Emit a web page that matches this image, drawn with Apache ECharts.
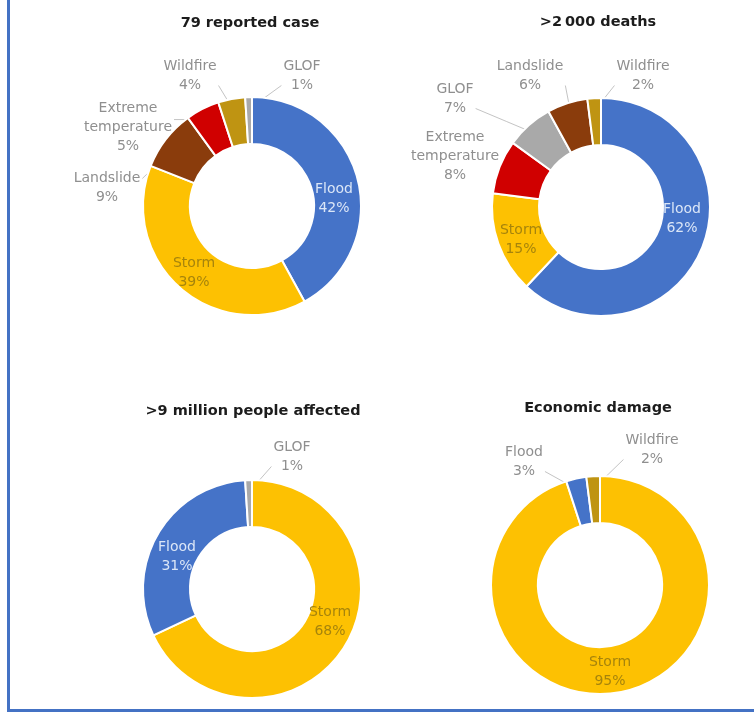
<!DOCTYPE html>
<html><head><meta charset="utf-8">
<script src="https://cdn.jsdelivr.net/npm/echarts@6/dist/echarts.min.js"></script>
<style>html,body{margin:0;padding:0;background:#fff}#main{width:754px;height:714px}</style>
</head><body><div id="main"></div>
<script>
// ---- data ----
const chartTitles = ['79 reported case', '>2\u2009000 deaths', '>9 million people affected', 'Economic damage'];
const casesNames = ['Flood', 'Storm', 'Landslide', 'Extreme temperature', 'Wildfire', 'GLOF'];
const casesValues = [42, 39, 9, 5, 4, 1];
const deathsNames = ['Flood', 'Storm', 'Extreme temperature', 'GLOF', 'Landslide', 'Wildfire'];
const deathsValues = [62, 15, 8, 7, 6, 2];
const affectedNames = ['Storm', 'Flood', 'GLOF'];
const affectedValues = [68, 31, 1];
const damageNames = ['Storm', 'Flood', 'Wildfire'];
const damageValues = [95, 3, 2];

// ---- style / layout ----
const colorMap = {
  'Flood': '#4573c8',
  'Storm': '#fdc102',
  'Landslide': '#8a3c0c',
  'Extreme temperature': '#d00000',
  'Wildfire': '#bf9412',
  'GLOF': '#a9a9a9'
};
const insideColor = { 'Flood': '#dbe6f7', 'Storm': '#a6840c' };
const FONT = "'DejaVu Sans', sans-serif";
const LH = 19;
const R_IN = 62, R_OUT = 109, R_LINE = 97;
// label centre offsets from each ring centre
const panels = [
  { center: [252, 206], titleX: 250, titleY: 25, names: casesNames, values: casesValues,
    labelPos: { 'Flood': [82, -7], 'Storm': [-58, 67], 'Landslide': [-145, -18],
      'Extreme temperature': [-124, -79], 'Wildfire': [-62, -130], 'GLOF': [50, -130] } },
  { center: [601, 207], titleX: 598, titleY: 24, names: deathsNames, values: deathsValues,
    labelPos: { 'Flood': [81, 12], 'Storm': [-80, 33], 'Extreme temperature': [-146, -51],
      'GLOF': [-146, -108], 'Landslide': [-71, -131], 'Wildfire': [42, -131] } },
  { center: [252, 589], titleX: 253, titleY: 413, names: affectedNames, values: affectedValues,
    labelPos: { 'Storm': [78, 33], 'Flood': [-75, -32], 'GLOF': [40, -132] } },
  { center: [600, 585], titleX: 598, titleY: 410, names: damageNames, values: damageValues,
    labelPos: { 'Storm': [10, 87], 'Flood': [-76, -123], 'Wildfire': [52, -135] } }
];

function fmt(p) {
  const n = p.name.indexOf(' ') > 0 && p.name.length > 10 ? p.name.replace(' ', '\n') : p.name;
  return n + '\n' + p.value + '%';
}

const series = panels.map((pn) => ({
  type: 'pie',
  center: pn.center,
  radius: [R_IN, R_OUT],
  startAngle: 90,
  clockwise: true,
  avoidLabelOverlap: false,
  minShowLabelAngle: 0,
  itemStyle: { borderColor: '#ffffff', borderWidth: 2 },
  label: { fontFamily: FONT, fontSize: 14, lineHeight: LH, color: '#8f8f8f', formatter: fmt },
  labelLine: { show: true, lineStyle: { color: '#c4c4c4', width: 1 } },
  emphasis: { disabled: true },
  data: pn.names.map((name, i) => {
    const inside = pn.values[i] >= 10;
    return {
      name: name,
      value: pn.values[i],
      itemStyle: { color: colorMap[name] },
      label: inside ? { position: 'inside', color: insideColor[name] } : { position: 'outside' },
      labelLine: { show: !inside }
    };
  }),
  labelLayout: function (params) {
    const name = pn.names[params.dataIndex];
    const off = pn.labelPos[name];
    const cx = pn.center[0], cy = pn.center[1];
    const x = cx + off[0];
    const y = cy + off[1];
    const res = { x: x, y: y, align: 'center', verticalAlign: 'middle' };
    if (params.labelLinePoints && pn.values[params.dataIndex] < 10) {
      const e = params.labelLinePoints[0];
      const vx = e[0] - cx, vy = e[1] - cy;
      const len = Math.sqrt(vx * vx + vy * vy) || 1;
      const p0 = [cx + vx / len * R_LINE, cy + vy / len * R_LINE];
      const w = params.labelRect.width / 2 + 2, h = params.labelRect.height / 2;
      let ex;
      if (p0[0] < x - w) ex = x - w; else if (p0[0] > x + w) ex = x + w;
      else ex = p0[0];
      let ey = Math.min(Math.max(p0[1], y - h + LH / 2), y + h - LH / 2);
      if (ex === p0[0]) ey = p0[1] < y ? y - h : y + h;
      res.labelLinePoints = [[p0[0], p0[1]], [(p0[0] + ex) / 2, (p0[1] + ey) / 2], [ex, ey]];
    }
    return res;
  }
}));

const chart = echarts.init(document.getElementById('main'), null, { renderer: 'canvas' });
chart.setOption({
  animation: false,
  backgroundColor: '#ffffff',
  title: panels.map((pn, i) => ({
    text: chartTitles[i],
    left: pn.titleX,
    top: pn.titleY - 9,
    textAlign: 'center',
    padding: 0,
    textStyle: { fontFamily: FONT, fontWeight: 'bold', fontSize: 14.5, color: '#1c1c1c' }
  })),
  graphic: [
    { type: 'rect', shape: { x: 7, y: 0, width: 3, height: 712 }, style: { fill: '#4472c4' } },
    { type: 'rect', shape: { x: 7, y: 709, width: 747, height: 3 }, style: { fill: '#4472c4' } }
  ],
  series: series
});
</script>
</body></html>
